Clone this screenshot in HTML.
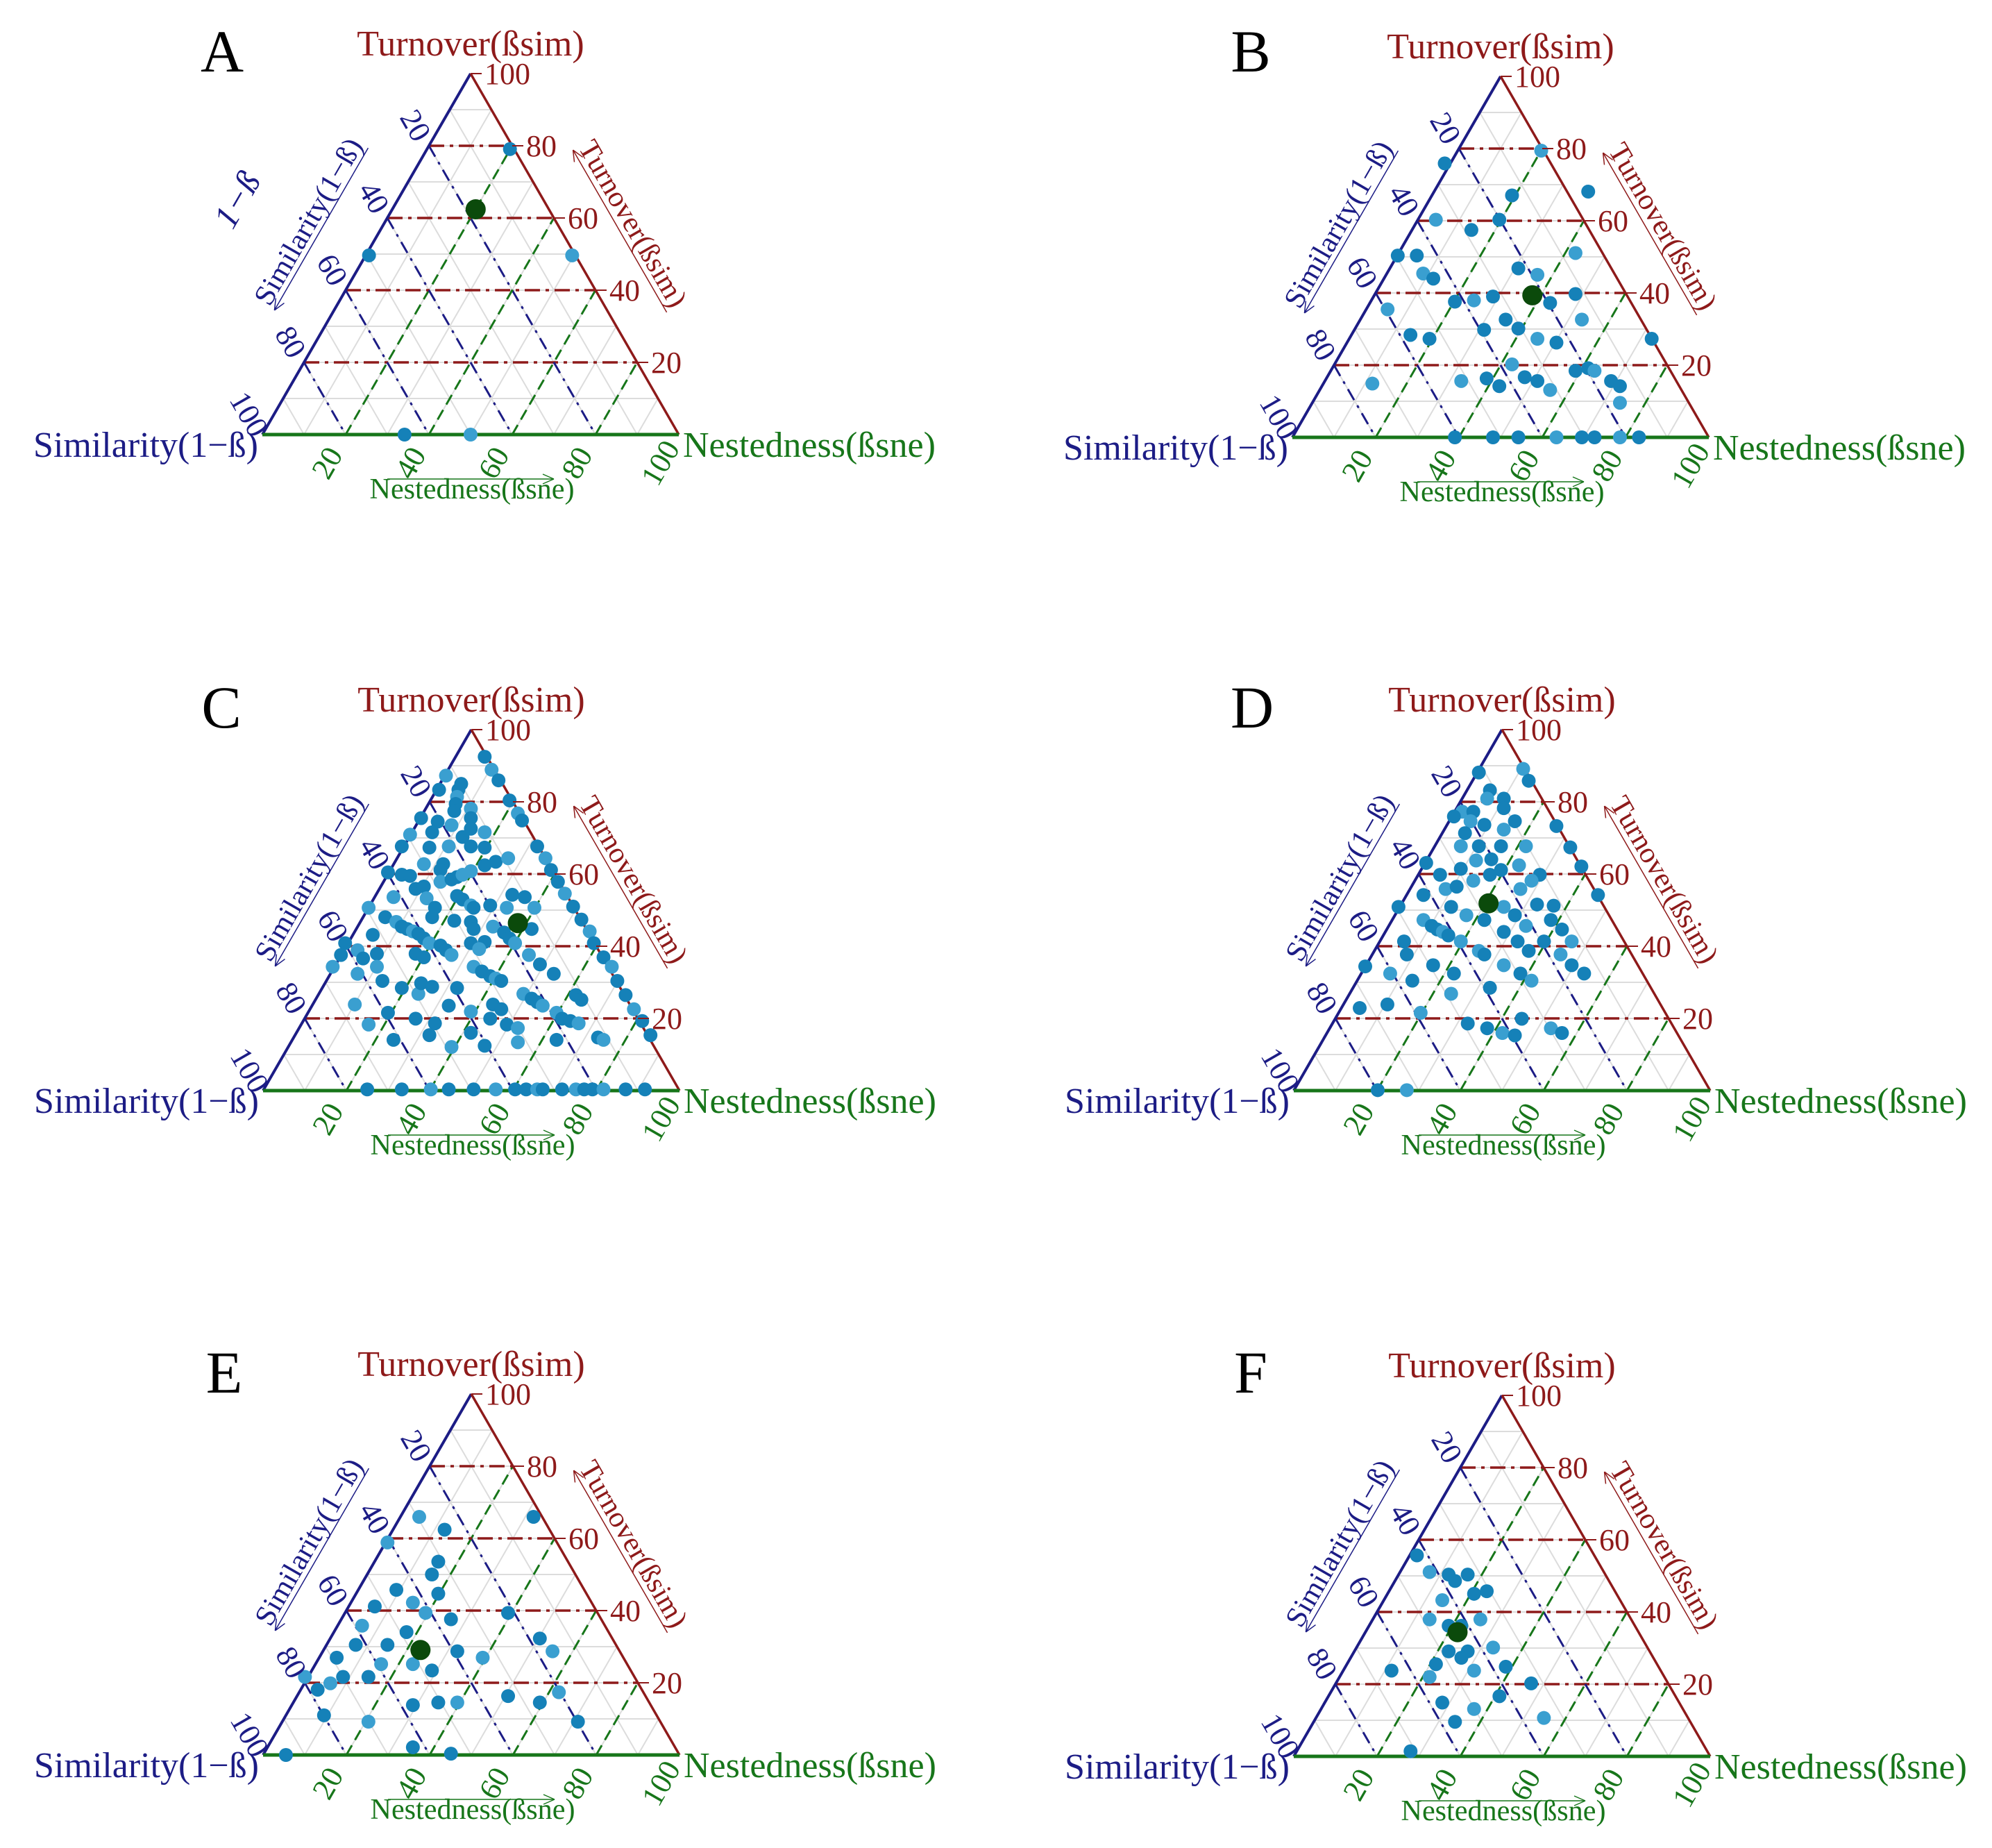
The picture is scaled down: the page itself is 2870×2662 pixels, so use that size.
<!DOCTYPE html>
<html><head><meta charset="utf-8"><style>
html,body{margin:0;padding:0;background:#fff;}
svg{display:block;font-family:"Liberation Serif",serif;}
</style></head><body>
<svg id="s" width="2870" height="2662" viewBox="0 0 2870 2662" xmlns="http://www.w3.org/2000/svg"></svg>
<script>
const S=document.getElementById('s');
const NS='http://www.w3.org/2000/svg';
function el(t,a,txt,p){const e=document.createElementNS(NS,t);for(const k in a)e.setAttribute(k,a[k]);if(txt!=null)e.textContent=txt;(p||S).appendChild(e);return e;}
const BL='#1c1c85',RD='#8e1a1a',GR='#17761a',D1='#1581b8',D2='#3a9fd0',GD='#0b4a0b';
function P(n,t){return [600*(n+t/2)/100,-520*t/100];}
function panel(ox,oy,letter,opts){
  const g=el('g',{transform:`translate(${ox},${oy})`});
  for(let k=10;k<100;k+=10){
    let a=P(0,k),b=P(100-k,k);el('line',{x1:a[0],y1:a[1],x2:b[0],y2:b[1],stroke:'#dcdcdc','stroke-width':2},null,g);
    a=P(0,100-k);b=P(100-k,0);el('line',{x1:a[0],y1:a[1],x2:b[0],y2:b[1],stroke:'#dcdcdc','stroke-width':2},null,g);
    a=P(k,0);b=P(k,100-k);el('line',{x1:a[0],y1:a[1],x2:b[0],y2:b[1],stroke:'#dcdcdc','stroke-width':2},null,g);
  }
  for(let k=20;k<100;k+=20){
    let a=P(0,k),b=P(100-k,k);el('line',{x1:a[0],y1:a[1],x2:b[0],y2:b[1],stroke:RD,'stroke-width':3.5,'stroke-dasharray':'22 8 5 8'},null,g);
    a=P(0,100-k);b=P(100-k,0);el('line',{x1:a[0],y1:a[1],x2:b[0],y2:b[1],stroke:BL,'stroke-width':3,'stroke-dasharray':'18 9 4 9'},null,g);
    a=P(k,0);b=P(k,100-k);el('line',{x1:a[0],y1:a[1],x2:b[0],y2:b[1],stroke:GR,'stroke-width':3,'stroke-dasharray':'16 9'},null,g);
  }
  el('line',{x1:0,y1:0,x2:300,y2:-520,stroke:BL,'stroke-width':4},null,g);
  el('line',{x1:300,y1:-520,x2:600,y2:0,stroke:RD,'stroke-width':3.5},null,g);
  el('line',{x1:0,y1:0,x2:600,y2:0,stroke:GR,'stroke-width':5},null,g);
  const pts=opts.pts.map(opts.map);
  pts.forEach((p,i)=>el('circle',{cx:p[0],cy:p[1],r:10,fill:i%3==1?D2:D1},null,g));
  const gp=opts.map(opts.green);el('circle',{cx:gp[0],cy:gp[1],r:14.5,fill:GD},null,g);
  for(let k=20;k<=100;k+=20){const p=P(100-k,k);
    el('line',{x1:p[0],y1:p[1],x2:p[0]+16,y2:p[1],stroke:RD,'stroke-width':2},null,g);
    el('text',{x:p[0]+20,y:p[1]+15,fill:RD,'font-size':44},String(k),g);}
  for(let k=20;k<=100;k+=20){const p=P(0,100-k);
    el('text',{x:0,y:0,fill:BL,'font-size':44,'text-anchor':'middle',transform:`translate(${p[0]-32},${p[1]-22}) rotate(60)`},String(k),g);}
  for(let k=20;k<=100;k+=20){const p=P(k,0);
    el('text',{x:0,y:0,fill:GR,'font-size':44,'text-anchor':'middle',transform:`translate(${p[0]-14},${p[1]+48}) rotate(-60)`},String(k),g);}
  el('text',{x:300,y:-546,fill:RD,'font-size':52,'text-anchor':'middle'},'Turnover(ßsim)',g);
  el('text',{x:-6,y:32,fill:BL,'font-size':52,'text-anchor':'end'},'Similarity(1−ß)',g);
  el('text',{x:606,y:32,fill:GR,'font-size':52},'Nestedness(ßsne)',g);
  // left side label
  let gl=el('g',{transform:'translate(78,-300) rotate(-60)'},null,g);
  el('text',{x:0,y:0,fill:BL,'font-size':42,'text-anchor':'middle',textLength:270,lengthAdjust:'spacingAndGlyphs'},'Similarity(1−ß)',gl);
  el('line',{x1:-135,y1:8,x2:135,y2:8,stroke:BL,'stroke-width':1.5},null,gl);
  el('path',{d:'M-135 8 l16 -7 M-135 8 l16 7',stroke:BL,'stroke-width':1.5,fill:'none'},null,gl);
  // right side label
  let gr=el('g',{transform:'translate(522,-297) rotate(60)'},null,g);
  el('text',{x:0,y:0,fill:RD,'font-size':42,'text-anchor':'middle',textLength:270,lengthAdjust:'spacingAndGlyphs'},'Turnover(ßsim)',gr);
  el('line',{x1:-135,y1:8,x2:135,y2:8,stroke:RD,'stroke-width':1.5},null,gr);
  el('path',{d:'M-135 8 l16 -7 M-135 8 l16 7',stroke:RD,'stroke-width':1.5,fill:'none'},null,gr);
  el('text',{x:302,y:92,fill:GR,'font-size':42,'text-anchor':'middle',textLength:295,lengthAdjust:'spacingAndGlyphs'},'Nestedness(ßsne)',g);
  el('line',{x1:180,y1:64,x2:420,y2:64,stroke:GR,'stroke-width':1.5},null,g);
  el('path',{d:'M420 64 l-16 -7 M420 64 l-16 7',stroke:GR,'stroke-width':1.5,fill:'none'},null,g);
  el('text',{x:opts.lx,y:opts.ly,'font-size':86,'text-anchor':'middle',fill:'#000'},letter,g);
  if(opts.extra)el('text',{x:0,y:0,fill:BL,'font-size':50,'font-style':'italic','text-anchor':'middle',transform:'translate(-22,-330) rotate(-60)'},'1−ß',g);
}
function thumb(bx,by){return p=>[(p[0]-bx)*600/328,-(by-p[1])*520/282];}
function zoomC(p){return [(p[0]-18)*600/1507,-(1575-p[1])*520/1530];}
function zoomD(p){return [(p[0]-22)*600/1503,-(1572-p[1])*520/1517];}
const Apts=[[400,117],[449,200],[289,200],[317,340],[369,340]];
const Bpts=[[1137,128],[1213,118],[1190,153],[1180,172],[1130,172],[1158,180],[1115,200],[1120,214],[1128,218],[1145,236],[1092,242],[1110,262],[1125,265],[1160,235],[1175,232],[1195,210],[1210,215],[1220,237],[1240,230],[1245,250],[1185,250],[1195,257],[1210,265],[1225,268],[1168,258],[1150,298],[1170,296],[1180,302],[1190,285],[1200,295],[1210,298],[1220,305],[1240,290],[1250,288],[1255,290],[1268,298],[1275,302],[1240,198],[1300,265],[1250,150],[1275,315],[1175,342],[1195,342],[1225,342],[1245,342],[1255,342],[1275,342],[1290,342],[1145,342],[1080,300],[1100,200]];
const Cpts=[[820,160],[845,215],[870,260],[910,345],[940,400],[955,430],[1010,540],[1040,590],[1060,640],[1085,690],[1110,740],[1140,795],[1170,850],[1200,900],[1215,950],[1250,1010],[1280,1050],[1300,1110],[1330,1170],[1360,1230],[1390,1280],[1420,1340],[680,240],[655,300],[590,420],[550,490],[520,540],[470,650],[400,800],[315,950],[300,1000],[270,1050],[735,275],[725,300],[720,330],[715,360],[710,390],[770,380],[770,420],[650,435],[700,450],[630,480],[770,465],[820,480],[740,500],[620,545],[690,540],[770,540],[820,545],[600,615],[670,615],[660,640],[770,645],[820,620],[860,605],[905,590],[520,660],[550,665],[660,690],[700,680],[720,670],[740,660],[570,720],[600,710],[610,760],[720,750],[740,765],[490,755],[640,800],[630,840],[770,790],[780,800],[840,790],[900,800],[920,745],[965,755],[1000,800],[710,855],[770,860],[850,880],[780,890],[460,840],[500,860],[520,880],[540,890],[560,900],[580,910],[600,930],[620,950],[660,960],[680,980],[700,1000],[770,950],[820,945],[800,975],[890,905],[910,930],[930,950],[990,890],[415,915],[360,980],[380,1015],[430,995],[430,1050],[570,995],[600,1010],[980,1000],[1020,1040],[1070,1080],[360,1080],[450,1110],[520,1140],[580,1165],[590,1120],[630,1135],[780,1050],[810,1070],[840,1090],[860,1100],[880,1110],[720,1140],[960,1165],[990,1185],[1010,1200],[1030,1215],[1150,1170],[1170,1190],[350,1210],[470,1245],[690,1215],[770,1240],[850,1210],[880,1230],[1080,1245],[1100,1270],[1130,1280],[1160,1290],[570,1270],[640,1290],[400,1295],[840,1270],[900,1295],[940,1310],[620,1340],[490,1360],[700,1390],[770,1330],[820,1385],[940,1370],[1080,1360],[1230,1350],[1250,1360],[395,1570],[520,1570],[625,1570],[690,1570],[780,1570],[860,1570],[930,1570],[970,1570],[1010,1570],[1030,1570],[1100,1570],[1150,1570],[1180,1570],[1210,1570],[1250,1570],[1330,1570],[1400,1570]];
const Dpts=[[690,235],[850,220],[870,270],[730,310],[720,345],[780,345],[780,385],[630,400],[670,400],[600,420],[660,440],[710,455],[820,440],[780,475],[640,490],[970,460],[625,545],[690,545],[770,545],[860,545],[1020,550],[500,615],[680,605],[735,600],[770,645],[835,625],[625,640],[550,665],[670,690],[730,665],[910,665],[880,690],[1060,630],[1120,750],[570,725],[610,715],[490,750],[840,725],[400,800],[590,800],[780,800],[900,790],[960,795],[645,835],[710,855],[820,835],[490,855],[520,880],[540,895],[560,905],[580,920],[780,905],[860,880],[950,855],[990,895],[625,945],[830,945],[925,945],[1025,945],[420,945],[430,1000],[690,985],[710,1000],[870,985],[985,1000],[280,1050],[525,1045],[780,1045],[1025,1045],[1070,1080],[370,1080],[600,1080],[840,1080],[880,1110],[450,1110],[730,1140],[590,1165],[360,1210],[260,1225],[480,1245],[650,1290],[720,1310],[775,1330],[820,1340],[845,1270],[950,1310],[990,1330],[325,1570],[430,1570]];
const Epts=[[350,1205],[305,1215],[340,1240],[312,1252],[325,1262],[345,1255],[355,1275],[335,1270],[320,1285],[295,1265],[285,1280],[280,1295],[305,1295],[300,1310],[290,1320],[270,1320],[260,1325],[250,1330],[265,1305],[325,1310],[340,1315],[360,1300],[380,1305],[400,1270],[425,1290],[435,1300],[325,1342],[345,1340],[360,1340],[400,1335],[425,1340],[440,1332],[455,1355],[420,1195],[290,1355],[325,1375],[255,1350],[240,1320],[225,1381],[355,1380],[330,1195],[345,1230]];
const Fpts=[[1115,1225],[1125,1238],[1140,1240],[1155,1240],[1135,1260],[1160,1255],[1170,1253],[1125,1275],[1140,1280],[1150,1280],[1165,1275],[1140,1300],[1155,1300],[1175,1297],[1130,1310],[1150,1305],[1160,1315],[1185,1312],[1095,1315],[1125,1320],[1205,1325],[1135,1340],[1215,1352],[1145,1355],[1110,1378],[1160,1345],[1180,1335],[1145,1245]];
panel(378,626,'A',{pts:Apts,green:[373,164],map:thumb(205,340),lx:-58,ly:-523,extra:true});
panel(1862,630,'B',{pts:Bpts,green:[1206,231],map:thumb(1017,342),lx:-60,ly:-527});
panel(379,1571,'C',{pts:Cpts,green:[940,865],map:zoomC,lx:-60,ly:-523});
panel(1864,1571,'D',{pts:Dpts,green:[725,785],map:zoomD,lx:-60,ly:-523});
panel(379,2528,'E',{pts:Epts,green:[331,1299],map:thumb(207,1381),lx:-56,ly:-522});
panel(1864,2530,'F',{pts:Fpts,green:[1147,1285],map:thumb(1018,1382),lx:-62,ly:-524});
</script>
</body></html>
